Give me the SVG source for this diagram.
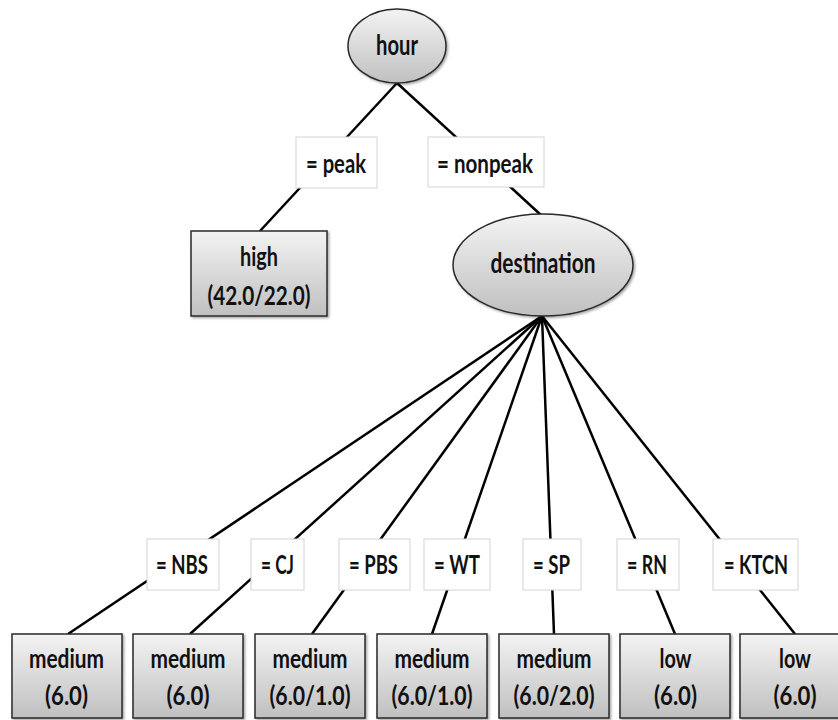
<svg xmlns="http://www.w3.org/2000/svg" width="838" height="720" viewBox="0 0 838 720">
<defs>
<linearGradient id="g" x1="0" y1="0" x2="0" y2="1">
<stop offset="0" stop-color="#f3f3f3"/>
<stop offset="1" stop-color="#c0c0c0"/>
</linearGradient>
<filter id="sh" x="-10%" y="-10%" width="125%" height="125%">
<feDropShadow dx="1.5" dy="1.5" stdDeviation="1.2" flood-color="#000" flood-opacity="0.35"/>
</filter>
</defs>
<style>
.n{fill:url(#g);stroke:#2a2a2a;stroke-width:1.5;filter:url(#sh)}
.lb{fill:#fff;stroke:#d4d4d4;stroke-width:1}
.e{stroke:#000;stroke-width:2.5;fill:none}
text{font-family:Lato,"Liberation Sans",sans-serif;font-weight:700;fill:#111;text-anchor:middle}
.t{font-size:26px}
.big{font-size:28px}
</style>
<rect width="838" height="720" fill="#fff"/>
<g id="edges">
<line class="e" x1="397" y1="83" x2="260" y2="231"/>
<line class="e" x1="397" y1="83" x2="542" y2="216"/>
<line class="e" x1="542" y1="316" x2="68" y2="634"/>
<line class="e" x1="542" y1="316" x2="190" y2="634"/>
<line class="e" x1="542" y1="316" x2="312" y2="634"/>
<line class="e" x1="542" y1="316" x2="432" y2="634"/>
<line class="e" x1="542" y1="316" x2="554" y2="634"/>
<line class="e" x1="542" y1="316" x2="675" y2="634"/>
<line class="e" x1="542" y1="316" x2="795" y2="634"/>
</g>
<g id="hour">
<ellipse class="n" cx="397" cy="46" rx="49" ry="37"/>
<text class="big" x="397" y="55" textLength="42" lengthAdjust="spacingAndGlyphs">hour</text>
</g>
<g id="lbl-peak">
<rect class="lb" x="296" y="137" width="81" height="51"/>
<text class="t" x="336" y="173" textLength="60" lengthAdjust="spacingAndGlyphs">= peak</text>
</g>
<g id="lbl-nonpeak">
<rect class="lb" x="428" y="137" width="116" height="50"/>
<text class="t" x="485" y="173" textLength="96" lengthAdjust="spacingAndGlyphs">= nonpeak</text>
</g>
<g id="high">
<rect class="n" x="191" y="231" width="136" height="85"/>
<text class="t" x="259" y="266" textLength="38" lengthAdjust="spacingAndGlyphs">high</text>
<text class="t" x="259" y="305" textLength="103" lengthAdjust="spacingAndGlyphs">(42.0/22.0)</text>
</g>
<g id="destination">
<ellipse class="n" cx="543" cy="265" rx="90" ry="51"/>
<text class="big" x="543" y="273" textLength="105" lengthAdjust="spacingAndGlyphs">destination</text>
</g>
<g id="lbl-nbs">
<rect class="lb" x="147" y="539" width="72" height="51"/>
<text class="t" x="182" y="574" textLength="52" lengthAdjust="spacingAndGlyphs">= NBS</text>
</g>
<g id="lbl-cj">
<rect class="lb" x="251" y="539" width="53" height="51"/>
<text class="t" x="277.5" y="574" textLength="33" lengthAdjust="spacingAndGlyphs">= CJ</text>
</g>
<g id="lbl-pbs">
<rect class="lb" x="339" y="539" width="71" height="51"/>
<text class="t" x="373.5" y="574" textLength="49" lengthAdjust="spacingAndGlyphs">= PBS</text>
</g>
<g id="lbl-wt">
<rect class="lb" x="424" y="539" width="66" height="51"/>
<text class="t" x="457" y="574" textLength="46" lengthAdjust="spacingAndGlyphs">= WT</text>
</g>
<g id="lbl-sp">
<rect class="lb" x="523" y="539" width="58" height="51"/>
<text class="t" x="551.5" y="574" textLength="37" lengthAdjust="spacingAndGlyphs">= SP</text>
</g>
<g id="lbl-rn">
<rect class="lb" x="617" y="539" width="62" height="51"/>
<text class="t" x="647" y="574" textLength="40" lengthAdjust="spacingAndGlyphs">= RN</text>
</g>
<g id="lbl-ktcn">
<rect class="lb" x="713" y="539" width="85" height="51"/>
<text class="t" x="756" y="574" textLength="64" lengthAdjust="spacingAndGlyphs">= KTCN</text>
</g>
<g id="leaf-nbs">
<rect class="n" x="12" y="634" width="110" height="84"/>
<text class="t" x="66.5" y="668" textLength="75" lengthAdjust="spacingAndGlyphs">medium</text>
<text class="t" x="66.5" y="705" textLength="43" lengthAdjust="spacingAndGlyphs">(6.0)</text>
</g>
<g id="leaf-cj">
<rect class="n" x="133" y="634" width="110" height="84"/>
<text class="t" x="188" y="668" textLength="75" lengthAdjust="spacingAndGlyphs">medium</text>
<text class="t" x="188" y="705" textLength="43" lengthAdjust="spacingAndGlyphs">(6.0)</text>
</g>
<g id="leaf-pbs">
<rect class="n" x="255" y="634" width="110" height="84"/>
<text class="t" x="310" y="668" textLength="75" lengthAdjust="spacingAndGlyphs">medium</text>
<text class="t" x="310" y="705" textLength="81" lengthAdjust="spacingAndGlyphs">(6.0/1.0)</text>
</g>
<g id="leaf-wt">
<rect class="n" x="377" y="634" width="110" height="84"/>
<text class="t" x="432" y="668" textLength="75" lengthAdjust="spacingAndGlyphs">medium</text>
<text class="t" x="432" y="705" textLength="81" lengthAdjust="spacingAndGlyphs">(6.0/1.0)</text>
</g>
<g id="leaf-sp">
<rect class="n" x="499" y="634" width="110" height="84"/>
<text class="t" x="554" y="668" textLength="75" lengthAdjust="spacingAndGlyphs">medium</text>
<text class="t" x="554" y="705" textLength="81" lengthAdjust="spacingAndGlyphs">(6.0/2.0)</text>
</g>
<g id="leaf-rn">
<rect class="n" x="620" y="634" width="110" height="84"/>
<text class="t" x="675.5" y="668" textLength="32" lengthAdjust="spacingAndGlyphs">low</text>
<text class="t" x="675.5" y="705" textLength="43" lengthAdjust="spacingAndGlyphs">(6.0)</text>
</g>
<g id="leaf-ktcn">
<rect class="n" x="740" y="634" width="110" height="84"/>
<text class="t" x="795" y="668" textLength="32" lengthAdjust="spacingAndGlyphs">low</text>
<text class="t" x="795" y="705" textLength="43" lengthAdjust="spacingAndGlyphs">(6.0)</text>
</g>
</svg>
